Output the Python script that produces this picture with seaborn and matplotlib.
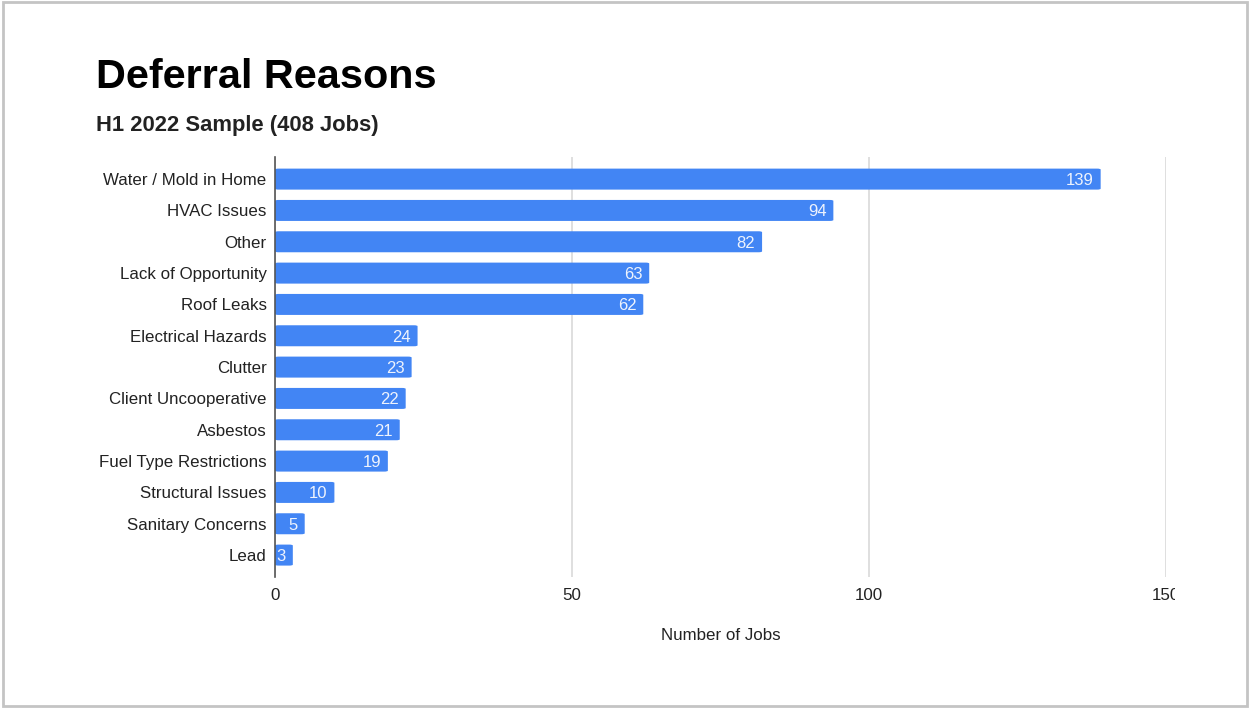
import matplotlib
matplotlib.use("Agg")
import matplotlib.pyplot as plt
import seaborn as sns
import pandas as pd
from matplotlib.patches import Rectangle, FancyBboxPatch
from matplotlib.transforms import Bbox, TransformedBbox

reasons = [
    "Water / Mold in Home", "HVAC Issues", "Other", "Lack of Opportunity",
    "Roof Leaks", "Electrical Hazards", "Clutter", "Client Uncooperative",
    "Asbestos", "Fuel Type Restrictions", "Structural Issues",
    "Sanitary Concerns", "Lead",
]
jobs = [139, 94, 82, 63, 62, 24, 23, 22, 21, 19, 10, 5, 3]
x_ticks = [0, 50, 100, 150]

title = "Deferral Reasons"
subtitle = "H1 2022 Sample (408 Jobs)"
x_label = "Number of Jobs"

BAR = "#4285f4"
TEXT = "#222222"

sns.set_theme(style="white")
plt.rcParams["font.family"] = ["Liberation Sans", "DejaVu Sans"]

df = pd.DataFrame({"reason": reasons, "jobs": jobs})

fig = plt.figure(figsize=(12.5, 7.08), dpi=100)
ax = fig.add_axes([0.22, 0.185, 0.7128, 0.593])

sns.barplot(data=df, x="jobs", y="reason", orient="h", color=BAR,
            saturation=1, width=0.67, ax=ax)

# round the bar corners slightly
for patch in list(ax.patches):
    x0, y0 = patch.get_x(), patch.get_y()
    w, h = patch.get_width(), patch.get_height()
    patch.set_visible(False)
    rounded = FancyBboxPatch((x0, y0), w, h,
                             boxstyle="round,pad=0,rounding_size=0.6",
                             mutation_aspect=1 / 20,
                             facecolor=BAR, edgecolor="none", zorder=2)
    ax.add_patch(rounded)

ax.set_xlim(0, 150)
ax.set_ylim(12.7, -0.7)
ax.set_xticks(x_ticks)
ax.set_xticklabels([str(t) for t in x_ticks])
ax.xaxis.grid(True, color="#d9d9d9", linewidth=1.2)
ax.set_axisbelow(True)

for s in ["top", "right", "bottom"]:
    ax.spines[s].set_visible(False)
ax.spines["left"].set_color("#555555")
ax.spines["left"].set_linewidth(1.2)
ax.spines["left"].set_zorder(3)

ax.tick_params(axis="both", length=0, labelsize=12.2, labelcolor=TEXT)
ax.tick_params(axis="y", pad=6)
ax.tick_params(axis="x", pad=8)
ax.set_ylabel("")
ax.set_xlabel(x_label, fontsize=12.2, color=TEXT, labelpad=18)

# value labels inside the bar ends
for i, v in enumerate(jobs):
    ax.annotate(str(v), xy=(v, i), xytext=(-5, 0), textcoords="offset points",
                ha="right", va="center_baseline", fontsize=12, color="#eef3fd",
                zorder=4)

# the last tick label is cut at the chart edge
clip = TransformedBbox(Bbox([[0, 0], [1175 / 1250, 1]]), fig.transFigure)
for lbl in ax.get_xticklabels():
    lbl.set_clip_box(clip)
    lbl.set_clip_on(True)

fig.text(96 / 1250, 1 - 88 / 708, title, fontsize=29.8, fontweight="bold",
         color="black", ha="left", va="baseline")
fig.text(96 / 1250, 1 - 131 / 708, subtitle, fontsize=15.8, fontweight="bold",
         color=TEXT, ha="left", va="baseline")

# outer frame
fig.patches.append(Rectangle((3 / 1250, 2 / 708), 1244 / 1250, 704 / 708,
                             transform=fig.transFigure, fill=False,
                             edgecolor="#c4c4c4", linewidth=2))

fig.savefig("out.png", dpi=100)
